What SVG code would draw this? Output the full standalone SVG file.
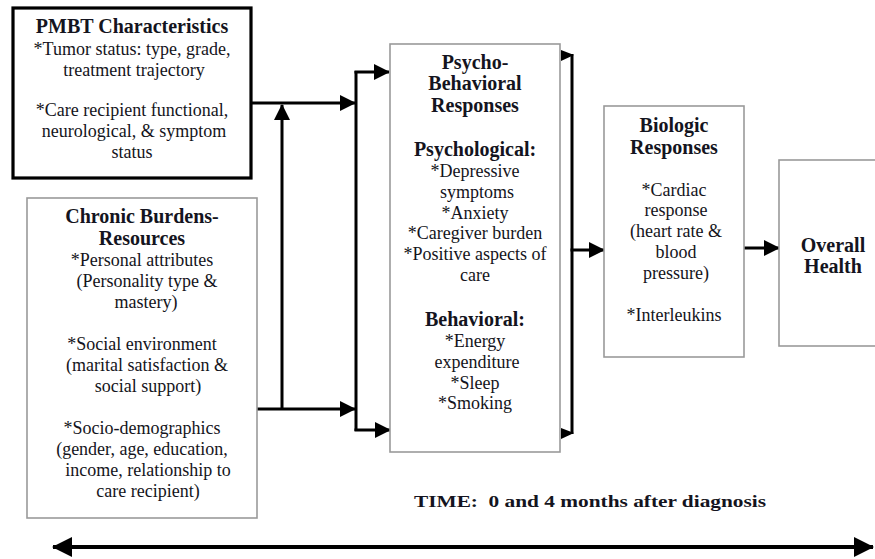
<svg xmlns="http://www.w3.org/2000/svg" width="875" height="559" viewBox="0 0 875 559">
<style>
  .box{fill:#fff;stroke:#9a9a9a;stroke-width:1.6}
  .thick{fill:#fff;stroke:#000;stroke-width:3.2}
  .t{font-family:"Liberation Serif","Times New Roman",serif;font-size:18px;fill:#141420;text-anchor:middle}
  .b{font-family:"Liberation Serif","Times New Roman",serif;font-size:20px;font-weight:bold;fill:#141420;text-anchor:middle}
  .c{fill:none;stroke:#000;stroke-width:3}
</style>
<defs>
  <marker id="ah" viewBox="0 0 16 16" refX="15" refY="8" markerWidth="16" markerHeight="16" markerUnits="userSpaceOnUse" orient="auto">
    <path d="M0,0 L16,8 L0,16 z" fill="#000"/>
  </marker>
  <marker id="ta" viewBox="0 0 20 20" refX="19" refY="10" markerWidth="20" markerHeight="20" markerUnits="userSpaceOnUse" orient="auto-start-reverse">
    <path d="M0,0 L20,10 L0,20 z" fill="#000"/>
  </marker>
</defs>

<g id="connectors">
  <path class="c" d="M251,103 H355" marker-end="url(#ah)"/>
  <path class="c" d="M257,409 H355" marker-end="url(#ah)"/>
  <path class="c" d="M282,409 V105" marker-end="url(#ah)"/>
  <path class="c" d="M356,71 V431"/>
  <path class="c" d="M354.5,72 H389" marker-end="url(#ah)"/>
  <path class="c" d="M354.5,430 H390" marker-end="url(#ah)"/>
  <path class="c" d="M572,54 V434"/>
  <polygon points="561,50 574,55 561,61" fill="#000"/>
  <polygon points="561,428 574,433 561,439" fill="#000"/>
  <path class="c" d="M570.5,250 H604" marker-end="url(#ah)"/>
  <path class="c" d="M744,248 H779" marker-end="url(#ah)"/>
  <path d="M53,547 H873" fill="none" stroke="#000" stroke-width="4" marker-start="url(#ta)" marker-end="url(#ta)"/>
</g>

<g id="pmbt">
  <rect class="thick" x="13" y="8" width="238" height="170"/>
  <text class="b" x="132" y="33">PMBT Characteristics</text>
  <text class="t" x="132" y="55">*Tumor status: type, grade,</text>
  <text class="t" x="134" y="76">treatment trajectory</text>
  <text class="t" x="132" y="116">*Care recipient functional,</text>
  <text class="t" x="134" y="137">neurological, &amp; symptom</text>
  <text class="t" x="132" y="158">status</text>
</g>

<g id="chronic">
  <rect class="box" x="27" y="198" width="230" height="320"/>
  <text class="b" x="142" y="223">Chronic Burdens-</text>
  <text class="b" x="142" y="245">Resources</text>
  <text class="t" x="142" y="266">*Personal attributes</text>
  <text class="t" x="147" y="287">(Personality type &amp;</text>
  <text class="t" x="146" y="308">mastery)</text>
  <text class="t" x="142" y="350">*Social environment</text>
  <text class="t" x="147" y="371">(marital satisfaction &amp;</text>
  <text class="t" x="148" y="392">social support)</text>
  <text class="t" x="142" y="434">*Socio-demographics</text>
  <text class="t" x="142" y="455">(gender, age, education,</text>
  <text class="t" x="148" y="476">income, relationship to</text>
  <text class="t" x="148" y="497">care recipient)</text>
</g>

<g id="psycho">
  <rect class="box" x="390" y="44" width="170" height="408"/>
  <text class="b" x="475" y="69">Psycho-</text>
  <text class="b" x="475" y="90">Behavioral</text>
  <text class="b" x="475" y="112">Responses</text>
  <text class="b" x="475" y="156">Psychological:</text>
  <text class="t" x="475" y="177">*Depressive</text>
  <text class="t" x="477" y="198">symptoms</text>
  <text class="t" x="475" y="219">*Anxiety</text>
  <text class="t" x="475" y="239">*Caregiver burden</text>
  <text class="t" x="475" y="260">*Positive aspects of</text>
  <text class="t" x="475" y="281">care</text>
  <text class="b" x="475" y="326">Behavioral:</text>
  <text class="t" x="475" y="347">*Energy</text>
  <text class="t" x="477" y="368">expenditure</text>
  <text class="t" x="475" y="389">*Sleep</text>
  <text class="t" x="475" y="409">*Smoking</text>
</g>

<g id="biologic">
  <rect class="box" x="604" y="106" width="140" height="251"/>
  <text class="b" x="674" y="132">Biologic</text>
  <text class="b" x="674" y="154">Responses</text>
  <text class="t" x="674" y="196">*Cardiac</text>
  <text class="t" x="676" y="216">response</text>
  <text class="t" x="676" y="237">(heart rate &amp;</text>
  <text class="t" x="676" y="258">blood</text>
  <text class="t" x="676" y="279">pressure)</text>
  <text class="t" x="674" y="321">*Interleukins</text>
</g>

<g id="overall">
  <rect class="box" x="779" y="160" width="110" height="186"/>
  <text class="b" x="833" y="252">Overall</text>
  <text class="b" x="833" y="273">Health</text>
</g>

<g id="time">
  <text class="b" x="590" y="507" style="font-size:17px;white-space:pre" textLength="352" lengthAdjust="spacingAndGlyphs">TIME:  0 and 4 months after diagnosis</text>
</g>
</svg>
